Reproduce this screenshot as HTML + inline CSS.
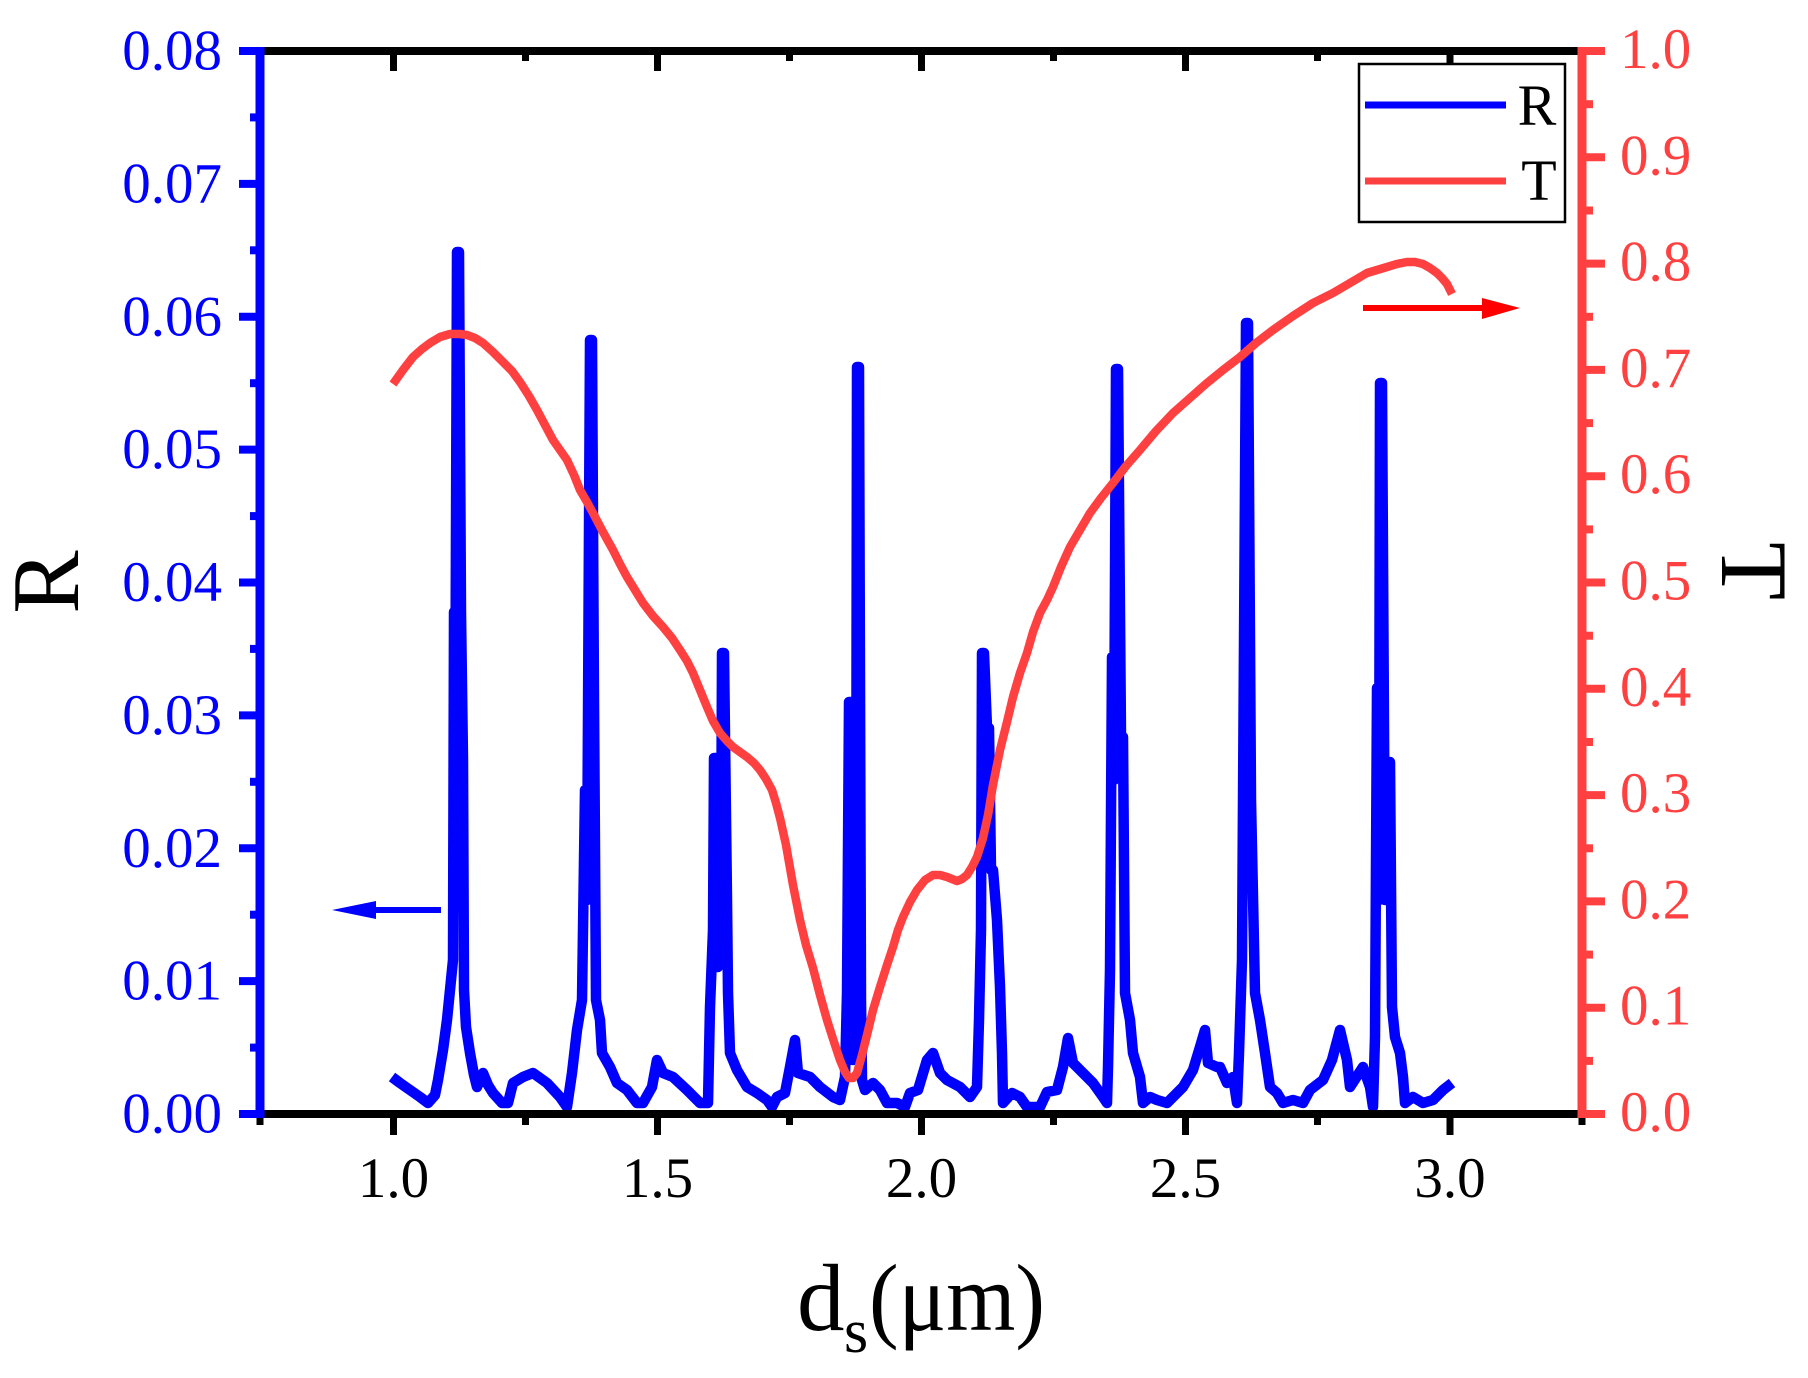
<!DOCTYPE html>
<html>
<head>
<meta charset="utf-8">
<style>
html,body{margin:0;padding:0;background:#fff;}
svg{display:block;}
text{font-family:"Liberation Serif","Times New Roman",serif;}
</style>
</head>
<body>
<svg width="1808" height="1378" viewBox="0 0 1808 1378" xmlns="http://www.w3.org/2000/svg">
<rect width="1808" height="1378" fill="#fff"/>

<!-- R curve -->
<polyline fill="none" stroke="#0000ff" stroke-width="10.5" stroke-linejoin="round" stroke-linecap="butt" points="
392,1077 400,1083 410,1090 420,1097 428,1103 435,1095 438,1080 443,1050 447,1020 450,990 453,960 454,612 455,800 457,252 459,252 461,612 463,760 464,990 466,1027 470,1053 474,1075 477,1087 483,1073 488,1085 493,1093 502,1103 508,1103 513,1083 523,1077 533,1073 547,1083 560,1097 567,1107 572,1073 577,1030 582,1000 585,790 587,900 590,340 592,340 594,700 596,1000 600,1020 602,1053 610,1067 617,1083 627,1090 637,1103 643,1103 652,1087 657,1060 663,1073 673,1077 687,1090 700,1103 708,1103 710,1007 713,930 714,758 716,758 718,967 721,900 722,653 724,653 727,900 728,993 730,1053 737,1070 747,1087 757,1093 767,1100 772,1107 777,1097 785,1093 790,1067 795,1040 798,1073 810,1077 820,1087 833,1097 840,1100 845,1077 847,993 849,702 851,702 853,1060 856,1000 857,367 859,367 861,1000 862,1080 865,1090 873,1083 880,1090 887,1103 897,1103 905,1107 910,1093 918,1090 927,1060 933,1053 940,1073 947,1080 960,1087 970,1097 977,1087 979,1020 981,930 982,653 984,653 987,728 989,728 991,870 993,870 997,920 1000,987 1002,1053 1003,1103 1012,1093 1020,1097 1027,1107 1040,1107 1047,1092 1057,1090 1063,1067 1068,1038 1073,1063 1083,1073 1093,1083 1103,1097 1107,1103 1108,1067 1110,970 1112,657 1114,780 1116,369 1118,369 1121,737 1123,737 1125,993 1130,1020 1133,1053 1140,1077 1143,1103 1150,1097 1157,1100 1167,1103 1177,1093 1183,1087 1193,1070 1200,1047 1205,1030 1208,1063 1217,1067 1220,1067 1227,1083 1233,1077 1237,1103 1239,1053 1242,960 1246,323 1248,323 1251,800 1255,993 1260,1020 1265,1053 1270,1087 1277,1093 1283,1103 1293,1100 1303,1103 1310,1090 1323,1080 1332,1060 1340,1030 1347,1060 1350,1087 1363,1067 1370,1087 1373,1107 1375,1037 1377,688 1379,900 1380,383 1382,383 1385,900 1390,762 1392,1007 1395,1037 1400,1053 1403,1077 1405,1103 1413,1097 1423,1103 1433,1100 1443,1090 1452,1083"/>

<!-- T curve -->
<polyline fill="none" stroke="#ff4040" stroke-width="8.5" stroke-linejoin="round" stroke-linecap="butt" points="
393,384 403,370 413,357 422,349 430,343 440,337 450,334 460,334 467,335 475,338 483,343 493,352 503,362 512,371 520,382 529,396 537,410 545,425 553,440 560,450 567,460 574,475 580,490 587,502 593,513 603,532 613,550 620,564 627,577 635,590 643,603 653,616 663,627 672,638 680,650 687,661 693,673 700,690 707,707 713,721 720,733 727,741 733,747 740,752 747,757 754,763 760,770 766,779 772,790 776,803 780,818 786,845 793,885 800,920 806,945 813,968 820,995 827,1020 834,1042 840,1060 845,1072 849,1078 853,1078 857,1073 862,1055 867,1035 873,1010 880,987 887,965 893,947 898,930 903,917 910,902 917,890 925,880 933,875 940,875 947,877 952,879 957,881 962,879 967,875 972,867 977,857 983,838 988,815 993,785 1000,750 1007,722 1013,697 1020,673 1027,653 1033,632 1040,613 1047,600 1053,587 1061,567 1070,547 1080,530 1090,513 1101,498 1113,483 1126,466 1140,450 1156,431 1173,413 1190,398 1207,383 1223,370 1240,357 1256,343 1273,330 1293,316 1313,303 1333,293 1350,283 1367,273 1387,267 1397,264 1407,262 1415,262 1423,264 1430,268 1437,273 1442,278 1447,284 1450,290 1452,294"/>

<!-- arrows -->
<line x1="373" y1="910" x2="441" y2="910" stroke="#0000ff" stroke-width="6"/>
<polygon points="332,910 376,901 376,919" fill="#0000ff"/>
<line x1="1363" y1="308" x2="1486" y2="308" stroke="#ff0000" stroke-width="6"/>
<polygon points="1482,298 1520,308 1482,319" fill="#ff0000"/>

<!-- top & bottom axes -->
<line x1="256" y1="51" x2="1586" y2="51" stroke="#000" stroke-width="8"/>
<line x1="256" y1="1114" x2="1586" y2="1114" stroke="#000" stroke-width="8"/>
<g stroke="#000" stroke-width="7">
  <line x1="260" y1="1114" x2="260" y2="1125"/>
  <line x1="393.5" y1="1114" x2="393.5" y2="1135"/>
  <line x1="525.5" y1="1114" x2="525.5" y2="1125"/>
  <line x1="657.5" y1="1114" x2="657.5" y2="1135"/>
  <line x1="789.5" y1="1114" x2="789.5" y2="1125"/>
  <line x1="921.5" y1="1114" x2="921.5" y2="1135"/>
  <line x1="1053.5" y1="1114" x2="1053.5" y2="1125"/>
  <line x1="1185.5" y1="1114" x2="1185.5" y2="1135"/>
  <line x1="1317.5" y1="1114" x2="1317.5" y2="1125"/>
  <line x1="1450" y1="1114" x2="1450" y2="1135"/>
  <line x1="1582" y1="1114" x2="1582" y2="1125"/>
  <line x1="393.5" y1="51" x2="393.5" y2="71"/>
  <line x1="525.5" y1="51" x2="525.5" y2="61"/>
  <line x1="657.5" y1="51" x2="657.5" y2="71"/>
  <line x1="789.5" y1="51" x2="789.5" y2="61"/>
  <line x1="921.5" y1="51" x2="921.5" y2="71"/>
  <line x1="1053.5" y1="51" x2="1053.5" y2="61"/>
  <line x1="1185.5" y1="51" x2="1185.5" y2="71"/>
  <line x1="1317.5" y1="51" x2="1317.5" y2="61"/>
  <line x1="1450" y1="51" x2="1450" y2="71"/>
</g>

<!-- left axis (blue) -->
<line x1="260" y1="47" x2="260" y2="1118" stroke="#0000ff" stroke-width="9"/>
<g stroke="#0000ff" stroke-width="8">
  <line x1="239" y1="1114" x2="260" y2="1114"/>
  <line x1="250" y1="1047.6" x2="260" y2="1047.6"/>
  <line x1="239" y1="981.1" x2="260" y2="981.1"/>
  <line x1="250" y1="914.7" x2="260" y2="914.7"/>
  <line x1="239" y1="848.3" x2="260" y2="848.3"/>
  <line x1="250" y1="781.8" x2="260" y2="781.8"/>
  <line x1="239" y1="715.4" x2="260" y2="715.4"/>
  <line x1="250" y1="648.9" x2="260" y2="648.9"/>
  <line x1="239" y1="582.5" x2="260" y2="582.5"/>
  <line x1="250" y1="516.1" x2="260" y2="516.1"/>
  <line x1="239" y1="449.6" x2="260" y2="449.6"/>
  <line x1="250" y1="383.2" x2="260" y2="383.2"/>
  <line x1="239" y1="316.8" x2="260" y2="316.8"/>
  <line x1="250" y1="250.3" x2="260" y2="250.3"/>
  <line x1="239" y1="183.9" x2="260" y2="183.9"/>
  <line x1="250" y1="117.4" x2="260" y2="117.4"/>
  <line x1="239" y1="51" x2="260" y2="51"/>
</g>
<g fill="#0000ff" font-size="57" text-anchor="end">
  <text x="222" y="1132.5">0.00</text>
  <text x="222" y="999.6">0.01</text>
  <text x="222" y="866.8">0.02</text>
  <text x="222" y="733.9">0.03</text>
  <text x="222" y="601">0.04</text>
  <text x="222" y="468.1">0.05</text>
  <text x="222" y="335.3">0.06</text>
  <text x="222" y="202.4">0.07</text>
  <text x="222" y="69.5">0.08</text>
</g>

<!-- right axis (red) -->
<line x1="1582" y1="47" x2="1582" y2="1118" stroke="#ff4040" stroke-width="9"/>
<g stroke="#ff4040" stroke-width="8">
  <line x1="1582" y1="1114" x2="1605" y2="1114"/>
  <line x1="1582" y1="1060.9" x2="1593" y2="1060.9"/>
  <line x1="1582" y1="1007.7" x2="1605" y2="1007.7"/>
  <line x1="1582" y1="954.6" x2="1593" y2="954.6"/>
  <line x1="1582" y1="901.4" x2="1605" y2="901.4"/>
  <line x1="1582" y1="848.3" x2="1593" y2="848.3"/>
  <line x1="1582" y1="795.1" x2="1605" y2="795.1"/>
  <line x1="1582" y1="742" x2="1593" y2="742"/>
  <line x1="1582" y1="688.8" x2="1605" y2="688.8"/>
  <line x1="1582" y1="635.7" x2="1593" y2="635.7"/>
  <line x1="1582" y1="582.5" x2="1605" y2="582.5"/>
  <line x1="1582" y1="529.4" x2="1593" y2="529.4"/>
  <line x1="1582" y1="476.2" x2="1605" y2="476.2"/>
  <line x1="1582" y1="423.1" x2="1593" y2="423.1"/>
  <line x1="1582" y1="369.9" x2="1605" y2="369.9"/>
  <line x1="1582" y1="316.8" x2="1593" y2="316.8"/>
  <line x1="1582" y1="263.6" x2="1605" y2="263.6"/>
  <line x1="1582" y1="210.5" x2="1593" y2="210.5"/>
  <line x1="1582" y1="157.3" x2="1605" y2="157.3"/>
  <line x1="1582" y1="104.2" x2="1593" y2="104.2"/>
  <line x1="1582" y1="51" x2="1605" y2="51"/>
</g>
<g fill="#ff4040" font-size="57" text-anchor="start">
  <text x="1620" y="1131">0.0</text>
  <text x="1620" y="1024.7">0.1</text>
  <text x="1620" y="918.4">0.2</text>
  <text x="1620" y="812.1">0.3</text>
  <text x="1620" y="705.8">0.4</text>
  <text x="1620" y="599.5">0.5</text>
  <text x="1620" y="493.2">0.6</text>
  <text x="1620" y="386.9">0.7</text>
  <text x="1620" y="280.6">0.8</text>
  <text x="1620" y="174.3">0.9</text>
  <text x="1620" y="68">1.0</text>
</g>

<!-- x tick labels -->
<g fill="#000" font-size="57" text-anchor="middle">
  <text x="393.5" y="1197">1.0</text>
  <text x="657.5" y="1197">1.5</text>
  <text x="921.5" y="1197">2.0</text>
  <text x="1185.5" y="1197">2.5</text>
  <text x="1450" y="1197">3.0</text>
</g>

<!-- axis titles -->
<text x="797" y="1330" font-size="95" fill="#000">d</text>
<text x="844" y="1352" font-size="62" fill="#000">s</text>
<text x="869" y="1330" font-size="95" fill="#000" textLength="176" lengthAdjust="spacingAndGlyphs">(μm)</text>
<text transform="translate(78,582) rotate(-90)" font-size="95" text-anchor="middle" fill="#000">R</text>
<text transform="translate(1722,571) rotate(90)" font-size="95" text-anchor="middle" fill="#000">T</text>

<!-- legend -->
<rect x="1359" y="64" width="206" height="158" fill="#fff" stroke="#000" stroke-width="2.5"/>
<line x1="1365" y1="105" x2="1506" y2="105" stroke="#0000ff" stroke-width="7"/>
<line x1="1365" y1="181" x2="1506" y2="181" stroke="#ff4040" stroke-width="7"/>
<text x="1537" y="125" font-size="58" text-anchor="middle" fill="#000">R</text>
<text x="1539" y="200" font-size="58" text-anchor="middle" fill="#000">T</text>
</svg>
</body>
</html>
